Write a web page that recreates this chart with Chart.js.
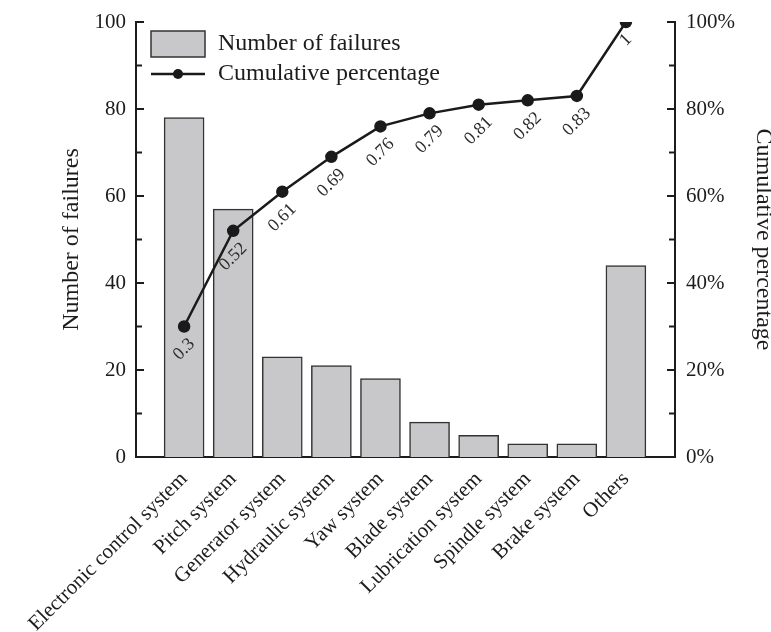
<!DOCTYPE html>
<html>
<head>
<meta charset="utf-8">
<script src="https://cdn.jsdelivr.net/npm/chart.js@4"></script>
<style>
    body { margin: 0; background: #fff; }
    #wrap { width: 771px; height: 632px; }
</style>
</head>
<body>
<div id="wrap"><canvas id="chart"></canvas></div>
<script>
const categories = ['Electronic control system', 'Pitch system', 'Generator system', 'Hydraulic system',
    'Yaw system', 'Blade system', 'Lubrication system', 'Spindle system', 'Brake system', 'Others'];
const failures = [78, 57, 23, 21, 18, 8, 5, 3, 3, 44];
const cumulative = [0.3, 0.52, 0.61, 0.69, 0.76, 0.79, 0.81, 0.82, 0.83, 1];
const leftTicks = [0, 20, 40, 60, 80, 100];
const rightTicks = [0, 0.2, 0.4, 0.6, 0.8, 1];

const serif = '"Liberation Serif", "DejaVu Serif", serif';
const ink = '#1c1c1c';
const barFill = '#c8c8ca';

// inward tick marks, value labels and the inset legend
const extras = {
    id: 'extras',
    afterDatasetsDraw(chart) {
        const ctx = chart.ctx;
        const area = chart.chartArea;
        const y = chart.scales.y, y1 = chart.scales.y1;
        ctx.save();
        ctx.strokeStyle = ink;
        ctx.lineWidth = 2;
        for (let v = 0; v <= 100; v += 10) {
            const len = v % 20 == 0 ? 8 : 6;
            const py = y.getPixelForValue(v);
            ctx.beginPath(); ctx.moveTo(area.left, py); ctx.lineTo(area.left + len, py); ctx.stroke();
            const py1 = y1.getPixelForValue(v / 100);
            ctx.beginPath(); ctx.moveTo(area.right, py1); ctx.lineTo(area.right - len, py1); ctx.stroke();
        }

        // value labels under the points
        const pts = chart.getDatasetMeta(1).data;
        ctx.font = '18px ' + serif;
        ctx.fillStyle = '#2a2a2a';
        ctx.textAlign = 'center';
        ctx.textBaseline = 'middle';
        pts.forEach((p, i) => {
            const txt = String(cumulative[i]);
            const w = ctx.measureText(txt).width;
            const off = 11 + (w + 11) * 0.354;
            ctx.save();
            ctx.translate(p.x, p.y + off);
            ctx.rotate(-Math.PI / 4);
            ctx.fillText(txt, 0, 0);
            ctx.restore();
        });

        // legend
        const lx = area.left + 15, ly = area.top + 9;
        ctx.fillStyle = barFill;
        ctx.fillRect(lx, ly, 54, 26);
        ctx.lineWidth = 1.5;
        ctx.strokeStyle = '#333';
        ctx.strokeRect(lx, ly, 54, 26);
        ctx.strokeStyle = '#1a1a1a';
        ctx.lineWidth = 2.5;
        ctx.beginPath(); ctx.moveTo(lx, ly + 43); ctx.lineTo(lx + 54, ly + 43); ctx.stroke();
        ctx.fillStyle = '#1a1a1a';
        ctx.beginPath(); ctx.arc(lx + 27, ly + 43, 5, 0, Math.PI * 2); ctx.fill();
        ctx.font = '24px ' + serif;
        ctx.fillStyle = ink;
        ctx.textAlign = 'left';
        ctx.fillText('Number of failures', lx + 67, ly + 13);
        ctx.fillText('Cumulative percentage', lx + 67, ly + 43);
        ctx.restore();
    }
};

const ctx = document.getElementById('chart').getContext('2d');
new Chart(ctx, {
    data: {
        datasets: [
            {
                type: 'bar',
                label: 'Number of failures',
                data: failures.map((v, i) => ({ x: i, y: v })),
                backgroundColor: barFill,
                borderColor: '#333',
                borderWidth: 1.5,
                barThickness: 40,
                yAxisID: 'y',
                order: 2,
            },
            {
                type: 'line',
                label: 'Cumulative percentage',
                data: cumulative.map((v, i) => ({ x: i, y: v })),
                borderColor: '#1a1a1a',
                backgroundColor: '#1a1a1a',
                borderWidth: 2.5,
                pointRadius: 5,
                pointHoverRadius: 5,
                tension: 0,
                yAxisID: 'y1',
                order: 1,
            }
        ]
    },
    options: {
        responsive: true,
        maintainAspectRatio: false,
        animation: false,
        layout: { padding: { top: 22, left: 0, right: 0, bottom: 0 } },
        plugins: {
            legend: { display: false },
            tooltip: { enabled: false },
        },
        scales: {
            x: {
                type: 'linear',
                offset: false,
                min: -0.98,
                max: 10,
                grid: { display: false, offset: false },
                border: { display: true, color: ink, width: 2 },
                afterBuildTicks: s => { s.ticks = categories.map((_, i) => ({ value: i })); },
                afterFit: s => { s.height = 175; },
                ticks: {
                    autoSkip: false,
                    minRotation: 45,
                    maxRotation: 45,
                    padding: 2,
                    color: ink,
                    font: { family: serif, size: 21 },
                    callback: v => categories[v],
                },
            },
            y: {
                position: 'left',
                min: 0,
                max: 100,
                grid: { display: false },
                border: { display: true, color: ink, width: 2 },
                afterBuildTicks: s => { s.ticks = leftTicks.map(v => ({ value: v })); },
                afterFit: s => { s.width = 136; },
                ticks: { padding: 2, color: ink, font: { family: serif, size: 21 } },
                title: {
                    display: true,
                    text: 'Number of failures',
                    color: ink,
                    font: { family: serif, size: 24 },
                    padding: { top: 57, bottom: 0 },
                },
            },
            y1: {
                position: 'right',
                min: 0,
                max: 1,
                grid: { display: false },
                border: { display: true, color: ink, width: 2 },
                afterBuildTicks: s => { s.ticks = rightTicks.map(v => ({ value: v })); },
                afterFit: s => { s.width = 96; },
                ticks: {
                    padding: 3,
                    color: ink,
                    font: { family: serif, size: 21 },
                    callback: v => Math.round(v * 100) + '%',
                },
                title: {
                    display: true,
                    text: 'Cumulative percentage',
                    color: ink,
                    font: { family: serif, size: 24 },
                    padding: { top: -7, bottom: 0 },
                },
            },
        },
    },
    plugins: [extras],
});
</script>
</body>
</html>
